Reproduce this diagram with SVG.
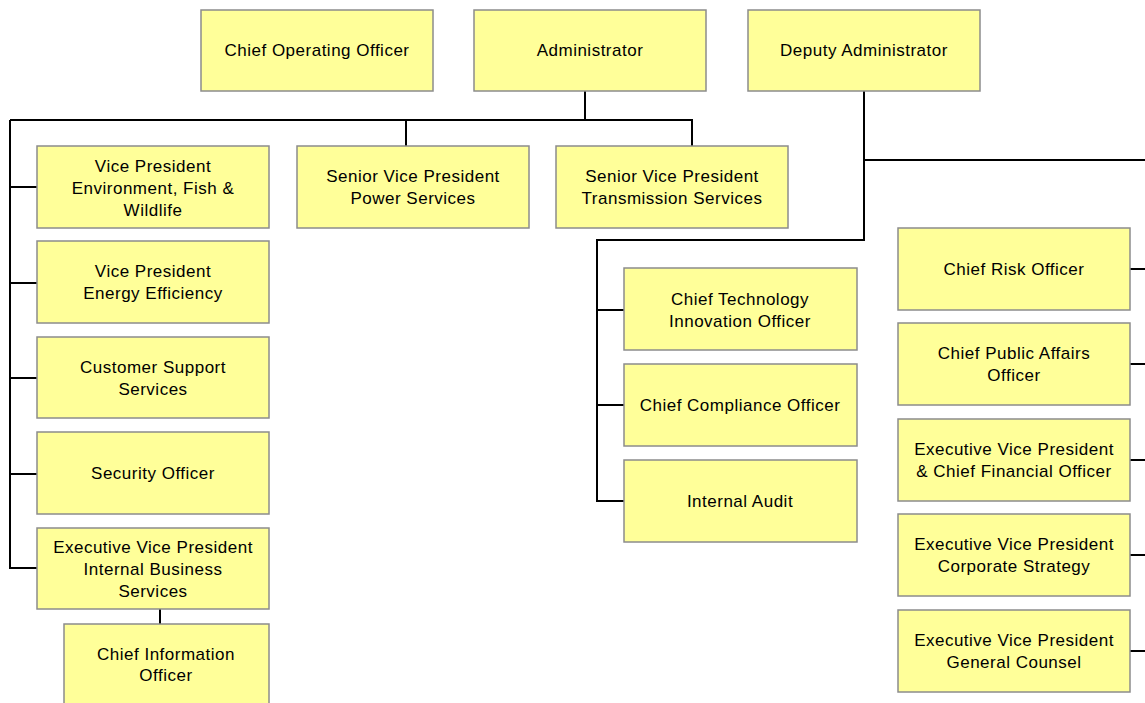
<svg xmlns="http://www.w3.org/2000/svg" width="1145" height="703" viewBox="0 0 1145 703">
<style>
.box{fill:#FFFF99;stroke:#8C8C8C;stroke-width:1.5}
.t{font-family:"Liberation Sans",Arial,sans-serif;font-size:17px;letter-spacing:0.5px;fill:#000;text-anchor:middle}
.c{fill:none;stroke:#000;stroke-width:2}
</style>
<rect width="1145" height="703" fill="#fff"/>
<g id="connectors" class="c">
<path d="M585 91V120M10 120H692V146M406 120V146M10 120V568H37M10 187H37M10 283H37M10 378H37M10 474H37"/>
<path d="M160 609V624"/>
<path d="M864 91V240H597V501H624M597 310H624M597 405H624M864 160H1145"/>
<path d="M1130 269H1145M1130 364H1145M1130 460H1145M1130 555H1145M1130 651H1145"/>
</g>
<g id="coo"><rect class="box" x="201" y="10" width="232" height="81"/><text class="t" x="317" y="56">Chief Operating Officer</text></g>
<g id="administrator"><rect class="box" x="474" y="10" width="232" height="81"/><text class="t" x="590" y="56">Administrator</text></g>
<g id="deputy"><rect class="box" x="748" y="10" width="232" height="81"/><text class="t" x="864" y="56">Deputy Administrator</text></g>
<g id="vp-env"><rect class="box" x="37" y="146" width="232" height="82"/><text class="t" x="153" y="172">Vice President</text><text class="t" x="153" y="194">Environment, Fish &amp;</text><text class="t" x="153" y="216">Wildlife</text></g>
<g id="vp-ee"><rect class="box" x="37" y="241" width="232" height="82"/><text class="t" x="153" y="277">Vice President</text><text class="t" x="153" y="299">Energy Efficiency</text></g>
<g id="css"><rect class="box" x="37" y="337" width="232" height="81"/><text class="t" x="153" y="373">Customer Support</text><text class="t" x="153" y="395">Services</text></g>
<g id="security"><rect class="box" x="37" y="432" width="232" height="82"/><text class="t" x="153" y="479">Security Officer</text></g>
<g id="evp-ibs"><rect class="box" x="37" y="528" width="232" height="81"/><text class="t" x="153" y="553">Executive Vice President</text><text class="t" x="153" y="575">Internal Business</text><text class="t" x="153" y="597">Services</text></g>
<g id="cio"><rect class="box" x="64" y="624" width="205" height="82"/><text class="t" x="166" y="660">Chief Information</text><text class="t" x="166" y="681">Officer</text></g>
<g id="svp-power"><rect class="box" x="297" y="146" width="232" height="82"/><text class="t" x="413" y="182">Senior Vice President</text><text class="t" x="413" y="204">Power Services</text></g>
<g id="svp-trans"><rect class="box" x="556" y="146" width="232" height="82"/><text class="t" x="672" y="182">Senior Vice President</text><text class="t" x="672" y="204">Transmission Services</text></g>
<g id="ctio"><rect class="box" x="624" y="268" width="233" height="82"/><text class="t" x="740" y="305">Chief Technology</text><text class="t" x="740" y="327">Innovation Officer</text></g>
<g id="cco"><rect class="box" x="624" y="364" width="233" height="82"/><text class="t" x="740" y="411">Chief Compliance Officer</text></g>
<g id="audit"><rect class="box" x="624" y="460" width="233" height="82"/><text class="t" x="740" y="507">Internal Audit</text></g>
<g id="cro"><rect class="box" x="898" y="228" width="232" height="82"/><text class="t" x="1014" y="275">Chief Risk Officer</text></g>
<g id="cpao"><rect class="box" x="898" y="323" width="232" height="82"/><text class="t" x="1014" y="359">Chief Public Affairs</text><text class="t" x="1014" y="381">Officer</text></g>
<g id="evp-cfo"><rect class="box" x="898" y="419" width="232" height="82"/><text class="t" x="1014" y="455">Executive Vice President</text><text class="t" x="1014" y="477">&amp; Chief Financial Officer</text></g>
<g id="evp-cs"><rect class="box" x="898" y="514" width="232" height="82"/><text class="t" x="1014" y="550">Executive Vice President</text><text class="t" x="1014" y="572">Corporate Strategy</text></g>
<g id="evp-gc"><rect class="box" x="898" y="610" width="232" height="82"/><text class="t" x="1014" y="646">Executive Vice President</text><text class="t" x="1014" y="668">General Counsel</text></g>
</svg>
